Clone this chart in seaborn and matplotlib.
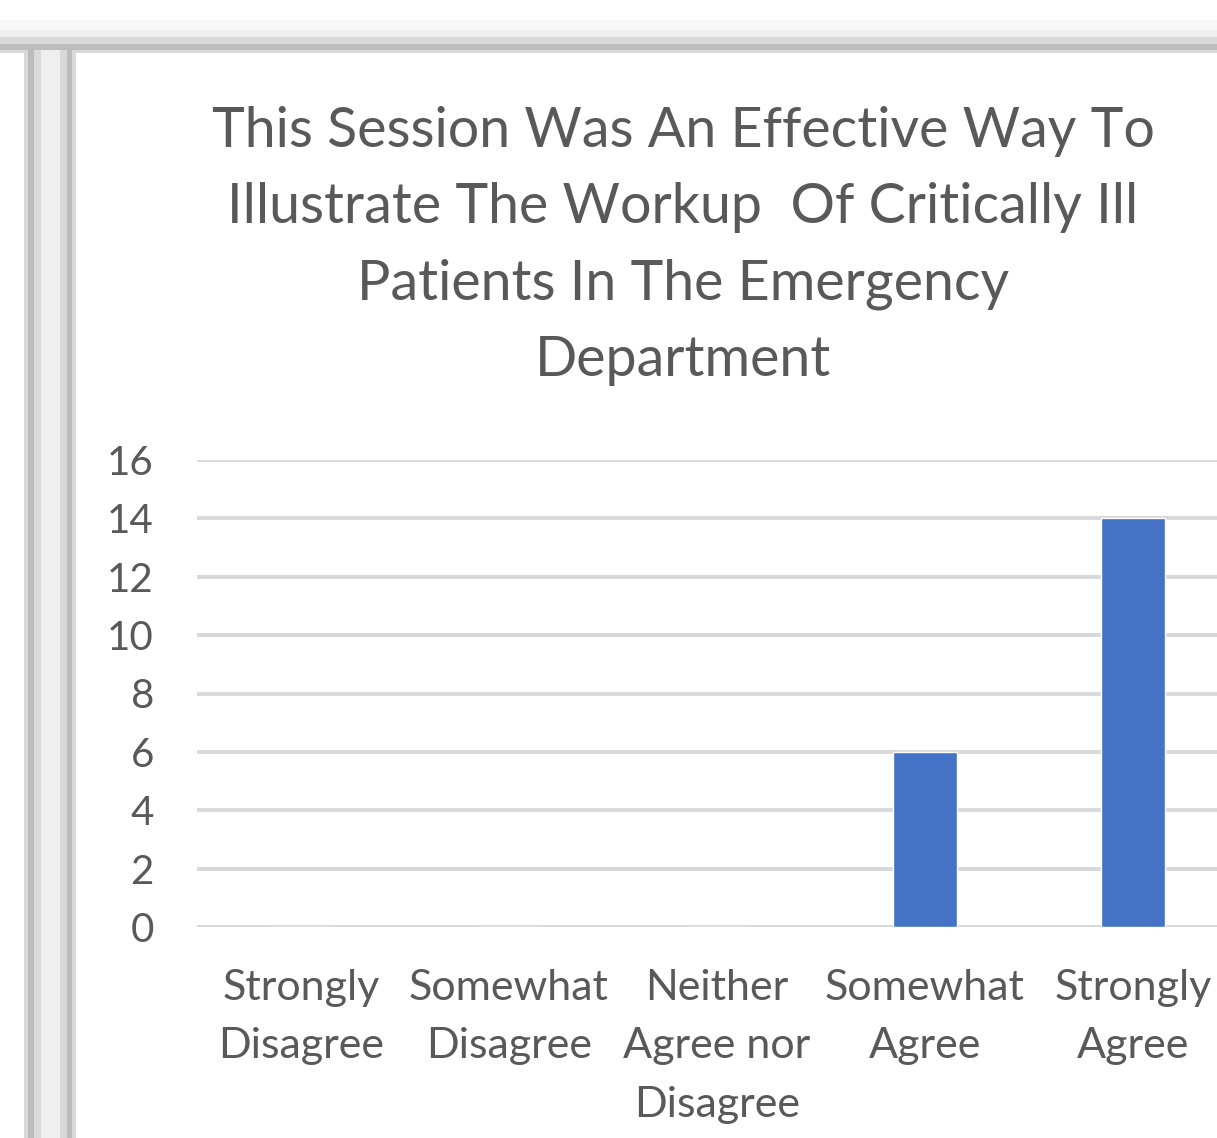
import matplotlib
matplotlib.use("Agg")
import matplotlib.pyplot as plt
from matplotlib.patches import Rectangle
import seaborn as sns

# Survey data
categories = ["Strongly\nDisagree", "Somewhat\nDisagree", "Neither\nAgree nor\nDisagree",
              "Somewhat\nAgree", "Strongly\nAgree"]
counts = [0, 0, 0, 6, 14]
yticks = [0, 2, 4, 6, 8, 10, 12, 14, 16]

title = ("This Session Was An Effective Way To\n"
         "Illustrate The Workup  Of Critically Ill\n"
         "Patients In The Emergency\n"
         "Department")

sns.set_theme(style="white")
plt.rcParams["font.family"] = ["Lato", "DejaVu Sans"]

W, H = 1217, 1138
fig = plt.figure(figsize=(W / 100, H / 100), dpi=100)
fig.patch.set_facecolor("white")

# Excel window frame (top and left bands)
def band(x0, y0, x1, y1, color):
    fig.patches.append(Rectangle((x0 / W, 1 - y1 / H), (x1 - x0) / W, (y1 - y0) / H,
                                 transform=fig.transFigure, facecolor=color,
                                 edgecolor="none", zorder=0))

band(0, 20, W, 30, "#f7f7f7")
band(0, 30, W, 37, "#efefef")
band(0, 37, W, 44, "#d9d9d9")
band(0, 44, W, 50, "#bcbcbc")
band(0, 50, W, 53, "#d9d9d9")
band(24, 50, 28, H, "#d9d9d9")
band(28, 50, 34, H, "#bcbcbc")
band(34, 50, 41, H, "#dadada")
band(41, 50, 60, H, "#efefef")
band(60, 50, 67, H, "#d9d9d9")
band(67, 50, 72, H, "#bcbcbc")
band(72, 50, 76, H, "#d9d9d9")

# Plot area (extends past right edge, as in the cropped screenshot)
left, right = 197, 1237
top, bottom = 460, 927
ax = fig.add_axes([left / W, 1 - bottom / H, (right - left) / W, (bottom - top) / H])
ax.set_facecolor("none")

sns.barplot(x=categories, y=counts, color="#4472C4", width=0.31, saturation=1, ax=ax, zorder=3)

ax.set_ylim(0, 16)
ax.set_xlim(-0.5, 4.5)
ax.set_yticks(yticks)
ax.yaxis.grid(True, color="#d9d9d9", linewidth=2.9, zorder=0)
ax.set_axisbelow(True)
for s in ax.spines.values():
    s.set_visible(False)
ax.tick_params(axis="y", length=0, pad=31, labelsize=29, labelcolor="#595959")
ax.tick_params(axis="x", length=0, pad=30, labelsize=31, labelcolor="#595959")
for lbl in ax.get_xticklabels():
    lbl.set_linespacing(1.66)
ax.set_xlabel("")
ax.set_ylabel("")

fig.text(683 / W, 1 - 246 / H, title, ha="center", va="center", fontsize=40,
         color="#595959", linespacing=1.62)

plt.savefig("out.png", dpi=100)
